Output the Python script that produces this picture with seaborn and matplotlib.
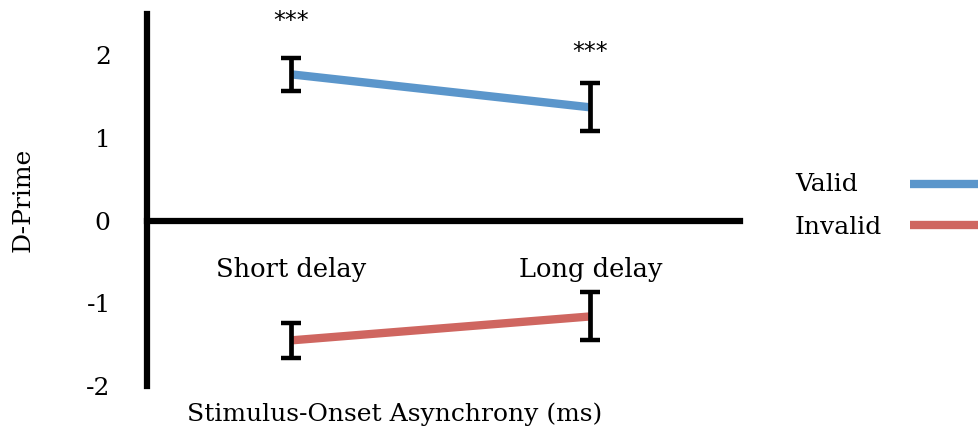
import matplotlib
matplotlib.use("Agg")
import matplotlib.pyplot as plt
import seaborn as sns
import pandas as pd
from matplotlib.lines import Line2D

categories = ["Short delay", "Long delay"]
valid_means = [1.77, 1.37]
valid_err = [0.20, 0.29]
invalid_means = [-1.45, -1.16]
invalid_err = [0.21, 0.29]
stars = ["***", "***"]
star_y = [2.42, 2.04]
series_names = ["Valid", "Invalid"]
colors = ["#5b96cb", "#cf6660"]

sns.set_theme(style="white")
plt.rcParams["font.family"] = ["DejaVu Serif"]
plt.rcParams["text.color"] = "black"
plt.rcParams["xtick.color"] = "black"
plt.rcParams["ytick.color"] = "black"
plt.rcParams["axes.labelcolor"] = "black"

df = pd.DataFrame({
    "pos": [0, 1, 0, 1],
    "value": valid_means + invalid_means,
    "cond": [series_names[0]] * 2 + [series_names[1]] * 2,
})

fig = plt.figure(figsize=(9.79, 4.36), dpi=100)
ax = fig.add_axes([0.150, 0.115, 0.606, 0.853])

sns.lineplot(data=df, x="pos", y="value", hue="cond", palette=colors,
             linewidth=6, ax=ax, legend=False, solid_capstyle="butt", zorder=2)

for means, errs in [(valid_means, valid_err), (invalid_means, invalid_err)]:
    ax.errorbar([0, 1], means, yerr=errs, fmt="none", ecolor="black",
                elinewidth=3.4, capsize=7, capthick=3.2, zorder=3)

for i, s in enumerate(stars):
    ax.text(i, star_y[i], s, ha="center", va="center", fontsize=17,
            family="DejaVu Sans", color="black")

for side in ["top", "right"]:
    ax.spines[side].set_visible(False)
ax.spines["bottom"].set_position(("data", 0))
ax.spines["left"].set_linewidth(4.5)
ax.spines["left"].set_color("black")
ax.spines["bottom"].set_linewidth(4.5)
ax.spines["bottom"].set_color("black")

ax.set_xlim(-0.48, 1.5)
ax.set_ylim(-2, 2.5)
ax.set_yticks([-2, -1, 0, 1, 2])
ax.set_yticklabels(["-2", "-1", "0", "1", "2"], fontsize=18)
ax.set_xticks([0, 1])
ax.set_xticklabels(categories, fontsize=18.5)
ax.tick_params(axis="y", length=0, pad=26)
ax.tick_params(axis="x", length=0, pad=26)

ax.set_xlabel("Stimulus-Onset Asynchrony (ms)", fontsize=18)
ax.xaxis.set_label_coords(0.418, -0.045)
ax.set_ylabel("D-Prime", fontsize=18)
ax.yaxis.set_label_coords(-0.19, 0.5)

# legend: label text on the left, line swatch on the right
leg_text_y = [0.576, 0.479]
leg_line_y = [0.578, 0.484]
for name, c, ty, ly in zip(series_names, colors, leg_text_y, leg_line_y):
    fig.text(0.812, ty, name, ha="left", va="center", fontsize=18, color="black")
    fig.add_artist(Line2D([0.9295, 1.0], [ly, ly], transform=fig.transFigure,
                          color=c, linewidth=6, solid_capstyle="butt"))

fig.savefig("out.png", dpi=100)
